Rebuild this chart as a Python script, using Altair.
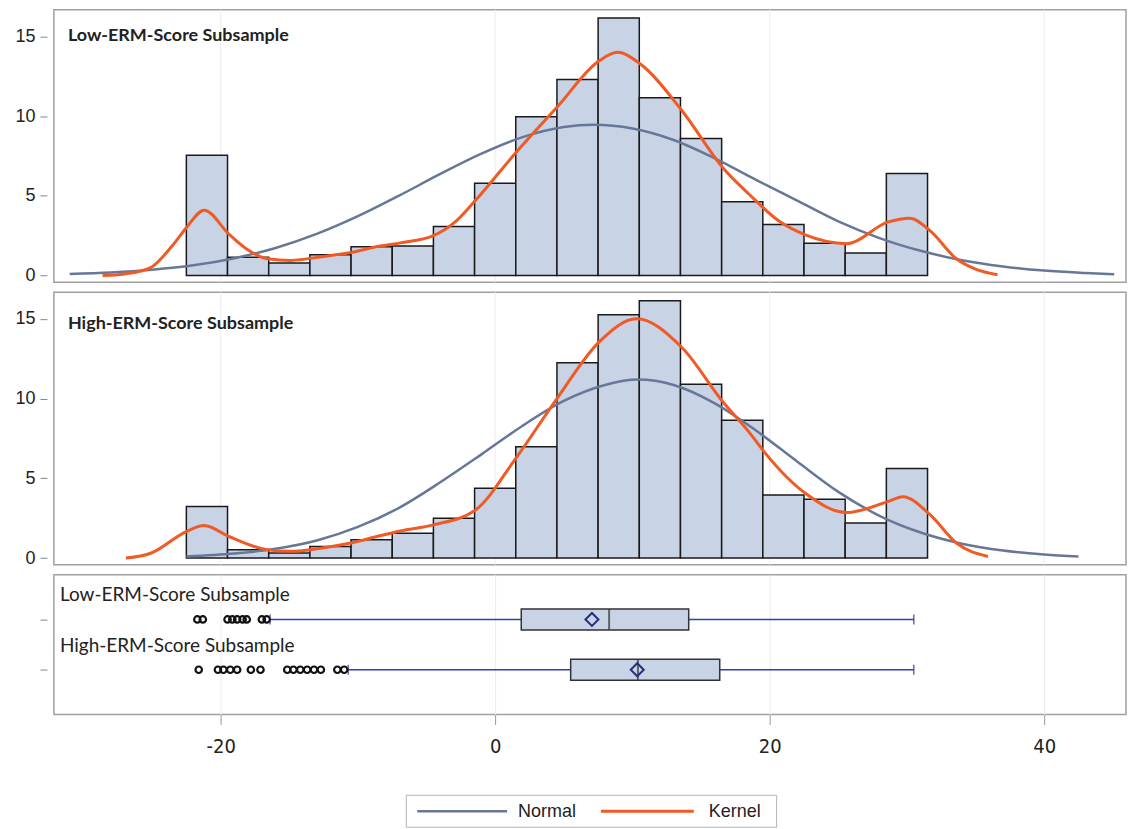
import altair as alt
import pandas as pd

# ---------------- data ----------------
bin_lo = [-22.5, -19.5, -16.5, -13.5, -10.5, -7.5, -4.5, -1.5, 1.5, 4.5,
          7.5, 10.5, 13.5, 16.5, 19.5, 22.5, 25.5, 28.5]
bin_hi = [-19.5, -16.5, -13.5, -10.5, -7.5, -4.5, -1.5, 1.5, 4.5, 7.5,
          10.5, 13.5, 16.5, 19.5, 22.5, 25.5, 28.5, 31.5]
low_pct = [7.54, 1.14, 0.79, 1.31, 1.80, 1.85, 3.08, 5.79, 9.96, 12.29,
           16.15, 11.15, 8.60, 4.63, 3.20, 2.02, 1.42, 6.40]
high_pct = [3.23, 0.52, 0.31, 0.73, 1.14, 1.56, 2.50, 4.37, 6.98, 12.25,
            15.25, 16.14, 10.90, 8.64, 3.96, 3.69, 2.19, 5.62]

low_normal_x = [-31.0, -28.0, -25.0, -22.0, -19.0, -16.0, -13.0, -10.0, -7.0, -4.0,
                -1.0, 2.0, 5.0, 7.2, 10.0, 13.0, 16.0, 19.0, 22.0, 25.0,
                28.0, 31.0, 34.0, 37.0, 40.0, 43.0, 45.1]
low_normal_y = [0.10, 0.19, 0.36, 0.64, 1.09, 1.73, 2.61, 3.72, 5.01, 6.37,
                7.64, 8.68, 9.31, 9.45, 9.22, 8.50, 7.35, 6.00, 4.70, 3.40,
                2.35, 1.55, 0.96, 0.57, 0.31, 0.16, 0.08]
low_kernel_x = [-28.6, -27.0, -25.1, -23.5, -22.5, -21.2, -19.4, -18.0, -16.6, -14.9,
                -12.5, -10.5, -8.4, -6.9, -4.5, -3.0, -1.45, 1.5, 4.5, 7.56,
                8.9, 10.6, 13.6, 16.6, 18.5, 20.7, 22.6, 25.6, 28.6,
                30.2, 31.7, 33.6, 35.0, 36.6]
low_kernel_y = [0.00, 0.10, 0.50, 1.90, 3.00, 4.10, 2.60, 1.60, 1.05, 0.95,
                1.20, 1.45, 1.85, 2.05, 2.50, 3.30, 4.70, 7.70, 10.55, 13.45,
                14.00, 13.25, 10.35, 6.75, 5.10, 3.40, 2.55, 2.00, 3.35,
                3.60, 2.80, 1.05, 0.40, 0.05]

high_normal_x = [-22.5, -19.0, -16.0, -13.0, -10.0, -7.0, -4.0, -1.0, 2.0, 5.0,
                 8.0, 10.4, 13.0, 16.0, 19.0, 22.0, 25.0, 28.0, 31.0, 34.0,
                 37.0, 40.0, 42.5]
high_normal_y = [0.10, 0.28, 0.58, 1.10, 1.95, 3.15, 4.75, 6.50, 8.30, 9.85,
                 10.85, 11.19, 10.85, 9.70, 8.00, 6.05, 4.15, 2.65, 1.60, 0.90,
                 0.47, 0.22, 0.10]
high_kernel_x = [-26.9, -25.1, -22.5, -21.2, -19.4, -16.6, -14.9, -12.5, -10.5, -8.4,
                 -6.9, -4.5, -1.45, 1.5, 4.5, 7.56, 10.3, 13.6, 16.6, 18.5,
                 19.6, 22.6, 25.6, 28.6, 29.7, 31.7, 33.6, 35.9]
high_kernel_y = [0.00, 0.30, 1.66, 2.04, 1.35, 0.52, 0.42, 0.65, 0.94, 1.40,
                 1.70, 2.08, 3.00, 6.25, 10.00, 13.54, 15.00, 13.20, 9.79, 7.90,
                 6.66, 4.06, 2.85, 3.54, 3.85, 2.70, 0.94, 0.10]

groups = ["Low-ERM-Score Subsample", "High-ERM-Score Subsample"]
box_q1 = [1.9, 5.5]
box_median = [8.3, 10.4]
box_q3 = [14.1, 16.36]
box_mean = [7.05, 10.35]
whisker_lo = [-16.4, -10.7]
whisker_hi = [30.5, 30.5]
low_outliers = [-21.7, -21.3, -19.5, -19.15, -18.8, -18.4, -18.1, -17.0, -16.65]
high_outliers = [-21.6, -20.2, -19.8, -19.3, -18.8, -17.8, -17.1, -15.15, -14.7,
                 -14.2, -13.7, -13.2, -12.7, -11.5, -11.0]

x_ticks = [-20, 0, 20, 40]
y_ticks = [0, 5, 10, 15]
series_names = ["Normal", "Kernel"]

# ---------------- styles ----------------
BAR_FILL = "#c9d3e6"
BAR_STROKE = "#1a1a1a"
NORMAL_COLOR = "#667797"
KERNEL_COLOR = "#f05a24"
WHISKER_COLOR = "#2f3fb8"
MEAN_COLOR = "#26307a"
GRID_COLOR = "#ececec"
SANS = "Liberation Sans, Arial, sans-serif"
NARROW = "Liberation Sans Narrow, DejaVu Sans Condensed, Liberation Sans, sans-serif"
W = 1074

xscale = alt.Scale(domain=[-32.15, 45.96], nice=False, zero=False)
yscale = alt.Scale(domain=[-0.42, 16.67], nice=False, zero=False)

y_axis = alt.Axis(values=y_ticks, grid=False, domain=False, title=None,
                  tickSize=7, offset=7, tickColor="#888", labelFontSize=18,
                  labelFont=SANS, labelPadding=5, labelColor="#222")

grid_df = pd.DataFrame({"x": x_ticks})


def hist_panel(pct, nx, ny, kx, ky, title, title_y):
    hdf = pd.DataFrame({"lo": bin_lo, "hi": bin_hi, "pct": pct})
    ndf = pd.DataFrame({"x": nx, "y": ny})
    kdf = pd.DataFrame({"x": kx, "y": ky})
    grid = alt.Chart(grid_df).mark_rule(color=GRID_COLOR, strokeWidth=1).encode(
        x=alt.X("x:Q", scale=xscale, axis=None))
    bars = alt.Chart(hdf).mark_bar(fill=BAR_FILL, stroke=BAR_STROKE, strokeWidth=1.5).encode(
        x=alt.X("lo:Q", scale=xscale, axis=None),
        x2="hi:Q",
        y=alt.Y("pct:Q", scale=yscale, axis=y_axis),
        y2=alt.datum(0),
    )
    normal = alt.Chart(ndf).mark_line(color=NORMAL_COLOR, strokeWidth=2.5,
                                      interpolate="monotone").encode(
        x=alt.X("x:Q", scale=xscale, axis=None), y=alt.Y("y:Q", scale=yscale))
    kernel = alt.Chart(kdf).mark_line(color=KERNEL_COLOR, strokeWidth=3,
                                      interpolate="monotone").encode(
        x=alt.X("x:Q", scale=xscale, axis=None), y=alt.Y("y:Q", scale=yscale))
    label = alt.Chart(pd.DataFrame({"t": [title]})).mark_text(
        align="left", baseline="middle", font="Lato", fontWeight="bold",
        fontSize=18, color="#222").encode(
        x=alt.value(14), y=alt.value(title_y), text="t:N")
    return alt.layer(grid, bars, normal, kernel, label).properties(width=W, height=273)


top = hist_panel(low_pct, low_normal_x, low_normal_y, low_kernel_x, low_kernel_y,
                 groups[0], 26)
mid = hist_panel(high_pct, high_normal_x, high_normal_y, high_kernel_x, high_kernel_y,
                 groups[1], 32)

# ---------------- box plot panel ----------------
bdf = pd.DataFrame({"g": groups, "q1": box_q1, "med": box_median, "q3": box_q3,
                    "mean": box_mean, "wlo": whisker_lo, "whi": whisker_hi})
odf = pd.DataFrame({"g": [groups[0]] * len(low_outliers) + [groups[1]] * len(high_outliers),
                    "v": low_outliers + high_outliers})

gscale = alt.Scale(type="point", domain=groups, padding=0.889)
g_axis = alt.Axis(labels=False, title=None, domain=False, ticks=True, tickSize=7,
                  offset=7, tickColor="#888", grid=False)
x_axis = alt.Axis(values=x_ticks, grid=True, gridColor=GRID_COLOR, domain=False,
                  tickSize=10, tickColor="#999", labelFontSize=20,
                  labelFont=NARROW, labelPadding=12, title=None,
                  labelColor="#222", labelExpr="'' + datum.value")
Y = alt.Y("g:N", scale=gscale, axis=g_axis)

wl = alt.Chart(bdf).mark_rule(color=WHISKER_COLOR, strokeWidth=1.5).encode(
    x=alt.X("wlo:Q", scale=xscale, axis=x_axis), x2="q1:Q", y=Y)
wr = alt.Chart(bdf).mark_rule(color=WHISKER_COLOR, strokeWidth=1.5).encode(
    x=alt.X("q3:Q", scale=xscale), x2="whi:Q", y=Y)
caps_l = alt.Chart(bdf).mark_tick(color=MEAN_COLOR, size=10, thickness=1.5).encode(
    x=alt.X("wlo:Q", scale=xscale), y=Y)
caps_r = alt.Chart(bdf).mark_tick(color=MEAN_COLOR, size=10, thickness=1.5).encode(
    x=alt.X("whi:Q", scale=xscale), y=Y)
box = alt.Chart(bdf).mark_bar(size=21, fill=BAR_FILL, stroke="#333", strokeWidth=1.5).encode(
    x=alt.X("q1:Q", scale=xscale), x2="q3:Q", y=Y)
med = alt.Chart(bdf).mark_tick(color="#333", size=21, thickness=2).encode(
    x=alt.X("med:Q", scale=xscale), y=Y)
mean = alt.Chart(bdf).mark_point(shape="diamond", filled=False, size=170, strokeWidth=2,
                                 color=MEAN_COLOR, opacity=1).encode(
    x=alt.X("mean:Q", scale=xscale), y=Y)
outl = alt.Chart(odf).mark_point(shape="circle", filled=False, size=42, strokeWidth=2.2,
                                 color="#111", opacity=1).encode(
    x=alt.X("v:Q", scale=xscale), y=Y)
glabels = alt.Chart(bdf).mark_text(align="left", baseline="middle", dy=-24, font="Lato",
                                   fontSize=19, color="#222").encode(
    x=alt.value(6), y=Y, text="g:N")

# legend (drawn below the x axis, pixel offsets relative to this panel)
one = pd.DataFrame({"n": [0]})
leg_box = alt.Chart(one).mark_rect(fill="white", stroke="#b5b5b5", strokeWidth=1).encode(
    x=alt.value(353), x2=alt.value(724), y=alt.value(221), y2=alt.value(253))
leg_n_line = alt.Chart(one).mark_rule(color=NORMAL_COLOR, strokeWidth=2.5).encode(
    x=alt.value(364), x2=alt.value(454), y=alt.value(237))
leg_k_line = alt.Chart(one).mark_rule(color=KERNEL_COLOR, strokeWidth=3).encode(
    x=alt.value(548), x2=alt.value(641), y=alt.value(237))
leg_n_text = alt.Chart(pd.DataFrame({"t": [series_names[0]]})).mark_text(
    align="left", baseline="middle", font=SANS, fontSize=18, color="#222").encode(
    x=alt.value(465), y=alt.value(238), text="t:N")
leg_k_text = alt.Chart(pd.DataFrame({"t": [series_names[1]]})).mark_text(
    align="left", baseline="middle", font=SANS, fontSize=18, color="#222").encode(
    x=alt.value(656), y=alt.value(238), text="t:N")

bottom = alt.layer(wl, wr, caps_l, caps_r, box, med, mean, outl, glabels,
                   leg_box, leg_n_line, leg_k_line, leg_n_text, leg_k_text
                   ).properties(width=W, height=140)

chart = alt.vconcat(top, mid, bottom, spacing=10, bounds="flush").properties(
    padding={"left": 14, "top": 7, "right": 1, "bottom": 0},
    background="white",
).configure_view(stroke="#a0a0a0", strokeWidth=1.5)

chart.save("out.html", embed_options={"renderer": "svg", "actions": False})
